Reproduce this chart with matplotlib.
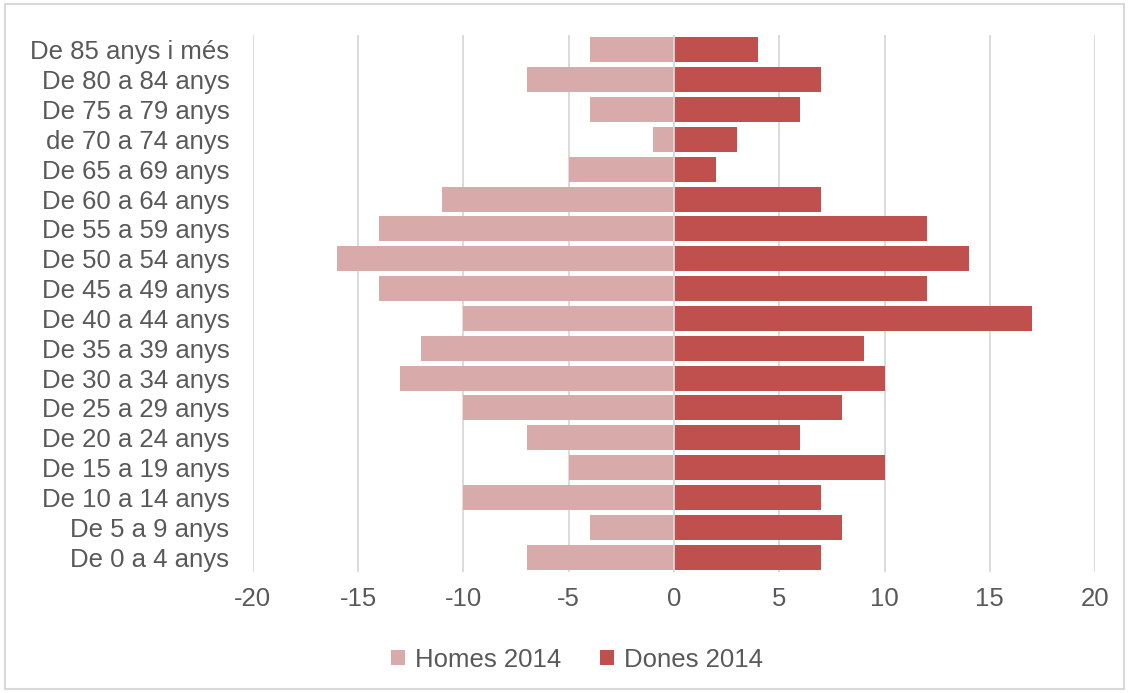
import matplotlib.pyplot as plt
from matplotlib.patches import Rectangle

plt.rcParams['font.family'] = ['Liberation Sans', 'DejaVu Sans']

# age groups, bottom to top
groups = ["De 0 a 4 anys", "De 5 a 9 anys", "De 10 a 14 anys", "De 15 a 19 anys",
          "De 20 a 24 anys", "De 25 a 29 anys", "De 30 a 34 anys", "De 35 a 39 anys",
          "De 40 a 44 anys", "De 45 a 49 anys", "De 50 a 54 anys", "De 55 a 59 anys",
          "De 60 a 64 anys", "De 65 a 69 anys", "de 70 a 74 anys", "De 75 a 79 anys",
          "De 80 a 84 anys", "De 85 anys i més"]
homes = [-7, -4, -10, -5, -7, -10, -13, -12, -10, -14, -16, -14, -11, -5, -1, -4, -7, -4]
dones = [7, 8, 7, 10, 6, 8, 10, 9, 17, 12, 14, 12, 7, 2, 3, 6, 7, 4]
xticks = [-20, -15, -10, -5, 0, 5, 10, 15, 20]

TXT = "#595959"
C_H = "#D9AAAA"
C_D = "#C0504D"

fig = plt.figure(figsize=(11.29, 6.93), dpi=100)
ax = fig.add_axes([0.224, 0.1746, 0.746, 0.775])

y = range(len(groups))
ax.barh(y, homes, height=0.84, color=C_H, label="Homes 2014", zorder=2)
ax.barh(y, dones, height=0.84, color=C_D, label="Dones 2014", zorder=2)

ax.set_xlim(-20, 20)
ax.set_ylim(-0.5, len(groups) - 0.5)
ax.set_xticks(xticks)
ax.set_xticklabels([str(v) for v in xticks])
ax.set_yticks(list(y))
ax.set_yticklabels(groups)
ax.tick_params(axis='both', length=0, labelsize=18.5, colors=TXT)
ax.tick_params(axis='x', pad=11)
ax.tick_params(axis='y', pad=17)
ax.grid(axis='x', color="#D9D9D9", linewidth=1.3, zorder=0)
ax.axvline(0, color="#D9D9D9", linewidth=1.3, zorder=3)
for s in ax.spines.values():
    s.set_visible(False)

fig.legend(loc='center', bbox_to_anchor=(0.511, 0.048), ncol=2, frameon=False,
           fontsize=18.5, handlelength=0.55, handleheight=0.55, handletextpad=0.4,
           columnspacing=1.5, labelcolor=TXT)

fig.patches.append(Rectangle((0.004, 0.006), 0.992, 0.988, transform=fig.transFigure,
                             fill=False, edgecolor="#D9D9D9", linewidth=1.5))

fig.savefig("out.png", dpi=100)
